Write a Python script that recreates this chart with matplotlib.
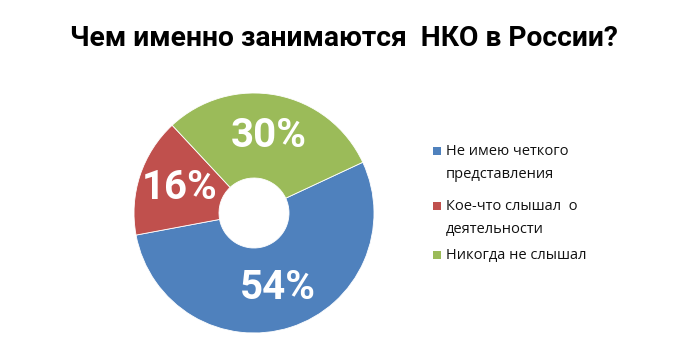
import matplotlib
matplotlib.use("Agg")
import matplotlib.pyplot as plt
from matplotlib.patches import Rectangle

title = "Чем именно занимаются  НКО в России?"
categories = ["Не имею четкого\nпредставления", "Кое-что слышал  о\nдеятельности", "Никогда не слышал"]
values = [54, 16, 30]
colors = ["#4F81BD", "#C0504D", "#9BBB59"]

W, H = 688, 363
fig = plt.figure(figsize=(W/100, H/100), dpi=100)
fig.patch.set_facecolor("white")

cx, cy, R = 254, 213, 120
ax = fig.add_axes([(cx-R)/W, (H-cy-R)/H, 2*R/W, 2*R/H])
wedges, texts, autotexts = ax.pie(
    values, colors=colors, startangle=25, counterclock=False,
    autopct=lambda p: f"{p:.0f}%", pctdistance=0.655,
    wedgeprops=dict(width=1-35/120, edgecolor="white", linewidth=0.6),
    textprops=dict(color="white", fontsize=29, fontweight="bold",
                   family=["Roboto", "DejaVu Sans"]))
ax.set_xlim(-1, 1); ax.set_ylim(-1, 1)
ax.set_aspect("equal")
ax.axis("off")

fig.text(0.5, 1-38/H, title, ha="center", va="center", fontsize=20.3,
         fontweight="bold", family=["Roboto", "DejaVu Sans"])

ys = [151, 206, 255]
for w, lab, y in zip(wedges, categories, ys):
    s = 8
    fig.patches.append(Rectangle(((433)/W, (H-y-s/2)/H), s/W, s/H,
                                 transform=fig.transFigure,
                                 facecolor=w.get_facecolor(), edgecolor="none"))
    fig.text(446/W, 1-(y-7)/H, lab, ha="left", va="top", fontsize=10.5,
             linespacing=1.75, family=["Open Sans", "DejaVu Sans"], color="#111111")

fig.savefig("out.png", dpi=100, facecolor="white")
